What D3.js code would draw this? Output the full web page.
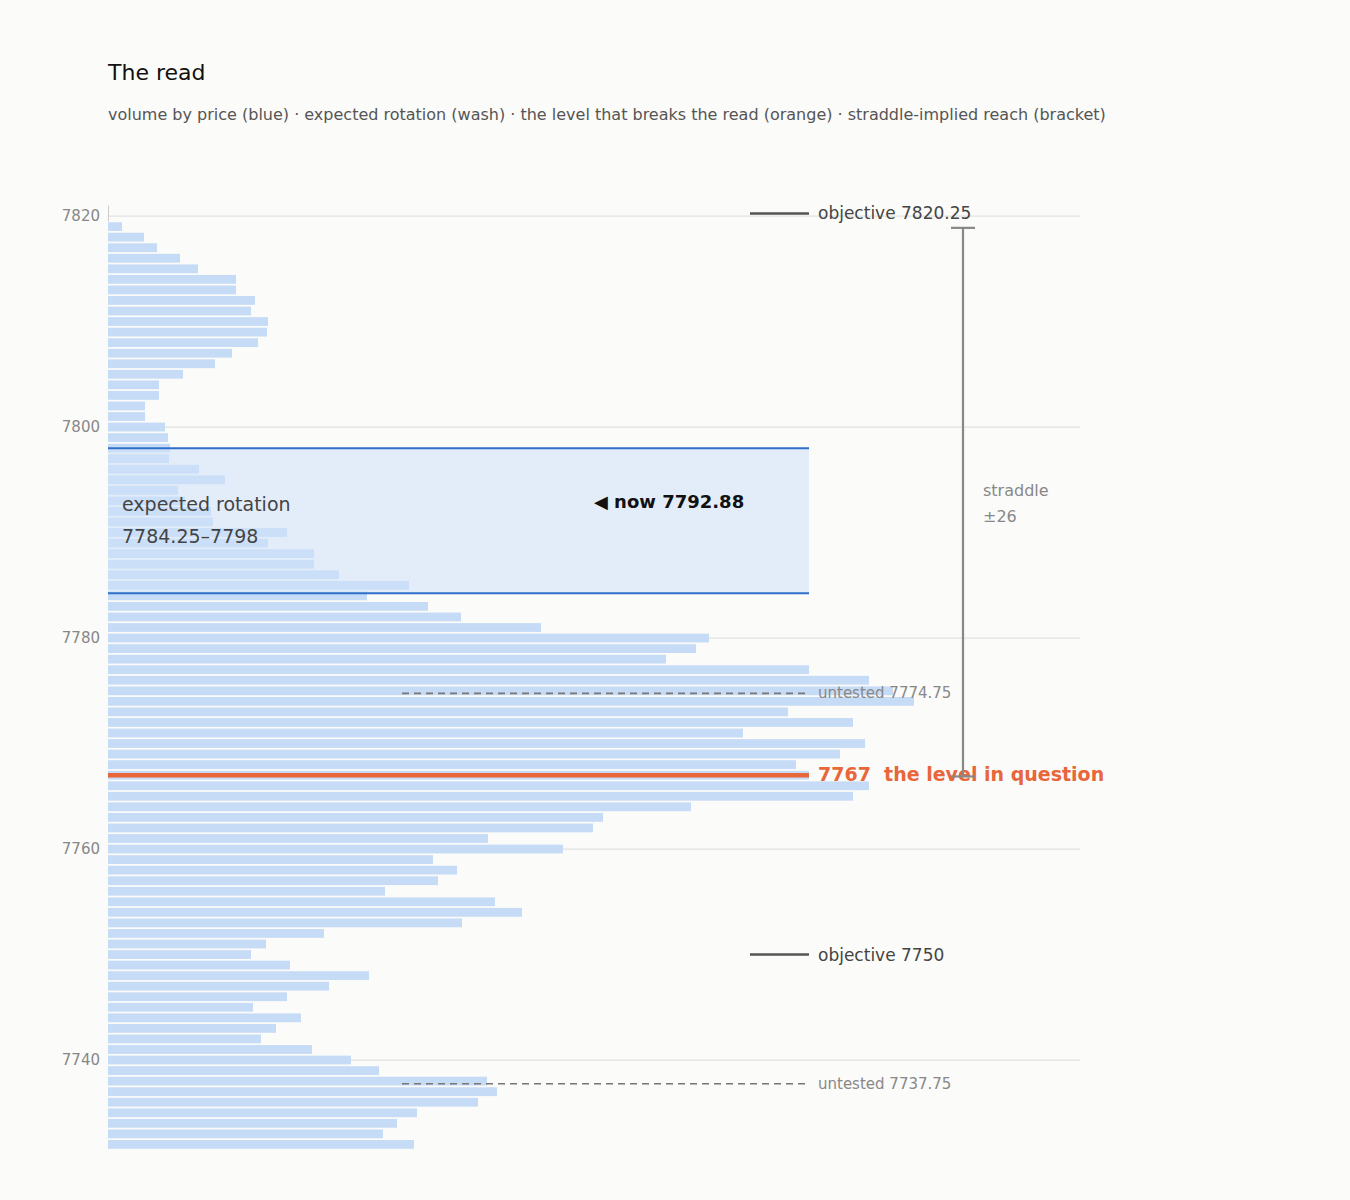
<!DOCTYPE html>
<html><head><meta charset="utf-8">
<script src="https://cdn.jsdelivr.net/npm/d3@7"></script>
<style>
body{margin:0;background:#fbfbf9;font-family:"DejaVu Sans",sans-serif}
</style></head><body><div id="chart"></div>
<script>
// volume by price, one bin per point, from 7819 down to 7731
const prices = d3.range(7819, 7730, -1);
const volumes = [14,36,49,72,90,128,128,147,143,160,159,150,124,107,75,51,51,37,37,57,
  60,62,61,91,117,70,77,103,105,179,160,206,206,231,301,259,320,353,433,601,
  588,558,701,761,785,806,680,745,635,757,732,688,701,761,745,583,495,485,380,455,
  325,349,330,277,387,414,354,216,158,143,182,261,221,179,145,193,168,153,204,243,
  271,379,389,370,309,289,275,306,311];
const yTicks = [7740, 7760, 7780, 7800, 7820];
const rotation = [7784.25, 7798];
const nowPrice = 7792.88;
const breakLevel = 7767;
const objectives = [7820.25, 7750];
const untested = [7774.75, 7737.75];
const straddle = 26;

const W = 1350, H = 1200;
const svg = d3.select('#chart').append('svg').attr('width', W).attr('height', H);
svg.append('rect').attr('width', W).attr('height', H).attr('fill', '#fbfbf9');

const y = d3.scaleLinear().domain([7731.5, 7821]).range([1149.7, 205.5]);
const x = d3.scaleLinear().domain([0, 972]).range([108, 1080]);
const bh = 8.8;

svg.append('text').attr('x', 108).attr('y', 80).attr('font-size', 22).attr('fill', '#111').text('The read');
svg.append('text').attr('x', 108).attr('y', 120).attr('font-size', 16).attr('fill', '#555')
  .text('volume by price (blue) · expected rotation (wash) · the level that breaks the read (orange) · straddle-implied reach (bracket)');

svg.append('clipPath').attr('id', 'plot').append('rect')
  .attr('x', 100).attr('y', y(7821)).attr('width', 1000).attr('height', y(7731.5) - y(7821));

svg.append('g').selectAll('line').data(yTicks).join('line')
  .attr('x1', 108).attr('x2', 1080).attr('y1', d => y(d)).attr('y2', d => y(d))
  .attr('stroke', '#e2e2e2').attr('stroke-width', 1.2);
svg.append('g').selectAll('text').data(yTicks).join('text')
  .attr('x', 100).attr('y', d => y(d) + 5).attr('text-anchor', 'end')
  .attr('font-size', 15).attr('fill', '#888').text(d => d);
svg.append('line').attr('x1', 108.5).attr('x2', 108.5).attr('y1', y(7821)).attr('y2', y(7819.5)).attr('stroke', '#ccc');

svg.append('g').attr('clip-path', 'url(#plot)').selectAll('rect').data(prices).join('rect')
  .attr('x', x(0)).attr('y', d => y(d) - bh / 2)
  .attr('width', (d, i) => x(volumes[i]) - x(0)).attr('height', bh)
  .attr('fill', '#c6dbf5');

// rotation wash
svg.append('rect').attr('x', 108).attr('width', 809 - 108)
  .attr('y', y(rotation[1])).attr('height', y(rotation[0]) - y(rotation[1]))
  .attr('fill', '#cfe1fa').attr('opacity', 0.55);
svg.selectAll('.rl').data(rotation).join('line').attr('class', 'rl')
  .attr('x1', 108).attr('x2', 809).attr('y1', d => y(d)).attr('y2', d => y(d))
  .attr('stroke', '#2f6fc9').attr('stroke-width', 2);
svg.append('text').attr('x', 122).attr('y', 511).attr('font-size', 19).attr('fill', '#444').text('expected rotation');
svg.append('text').attr('x', 122).attr('y', 543).attr('font-size', 19).attr('fill', '#444').text(`${rotation[0]}–${rotation[1]}`);
svg.append('text').attr('x', 594).attr('y', y(nowPrice) + 6).attr('font-size', 18).attr('font-weight', 'bold')
  .attr('fill', '#111').text(`◀ now ${nowPrice}`);

// untested
svg.selectAll('.ut').data(untested).join('line').attr('class', 'ut')
  .attr('x1', 402).attr('x2', 805).attr('y1', d => y(d)).attr('y2', d => y(d))
  .attr('stroke', '#777').attr('stroke-width', 1.6).attr('stroke-dasharray', '7 5');
svg.selectAll('.utt').data(untested).join('text').attr('class', 'utt')
  .attr('x', 818).attr('y', d => y(d) + 5).attr('font-size', 15).attr('fill', '#888').text(d => `untested ${d}`);

// objectives
svg.selectAll('.ob').data(objectives).join('line').attr('class', 'ob')
  .attr('x1', 750).attr('x2', 809).attr('y1', d => y(d)).attr('y2', d => y(d))
  .attr('stroke', '#555').attr('stroke-width', 2.5);
svg.selectAll('.obt').data(objectives).join('text').attr('class', 'obt')
  .attr('x', 818).attr('y', d => y(d) + 6).attr('font-size', 17).attr('fill', '#444').text(d => `objective ${d}`);

// break level
svg.append('line').attr('x1', 108).attr('x2', 809).attr('y1', y(breakLevel)).attr('y2', y(breakLevel))
  .attr('stroke', '#e8663a').attr('stroke-width', 4.5);
svg.append('text').attr('x', 818).attr('y', y(breakLevel) + 6).attr('font-size', 19).attr('font-weight', 'bold')
  .attr('fill', '#e8663a').attr('xml:space', 'preserve').text(`${breakLevel}  the level in question`);

// straddle bracket
const sTop = y(nowPrice + straddle), sBot = y(nowPrice - straddle);
const br = svg.append('g').attr('stroke', '#888').attr('stroke-width', 2.2);
br.append('line').attr('x1', 963).attr('x2', 963).attr('y1', sTop).attr('y2', sBot);
br.append('line').attr('x1', 951).attr('x2', 975).attr('y1', sTop).attr('y2', sTop);
br.append('line').attr('x1', 951).attr('x2', 975).attr('y1', sBot).attr('y2', sBot);
svg.append('text').attr('x', 983).attr('y', 496).attr('font-size', 16).attr('fill', '#888').text('straddle');
svg.append('text').attr('x', 983).attr('y', 522).attr('font-size', 16).attr('fill', '#888').text(`±${straddle}`);
</script></body></html>
